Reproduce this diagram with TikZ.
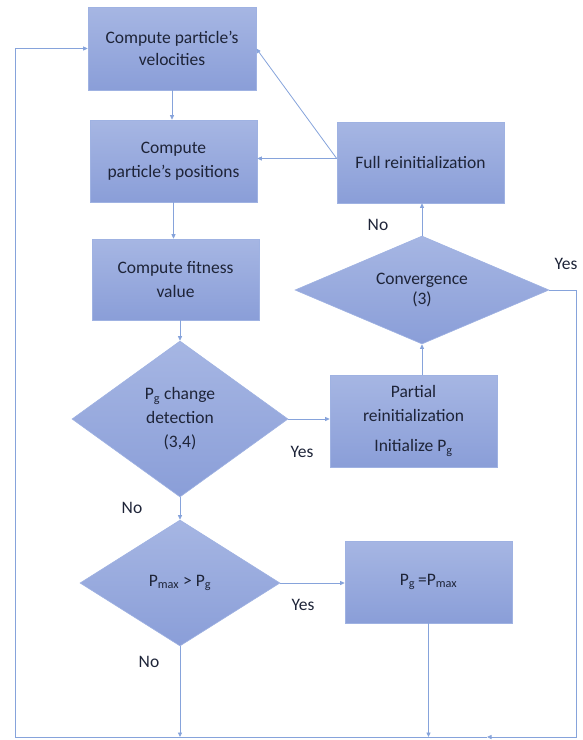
\documentclass[tikz,border=0pt]{standalone}
\usepackage{fontspec}
\setmainfont{Carlito}
\usetikzlibrary{arrows.meta,shapes.geometric}
\definecolor{boxtop}{HTML}{A6B6E3}
\definecolor{boxbot}{HTML}{8A9ED8}
\definecolor{boxline}{HTML}{9FB2E2}
\definecolor{conn}{HTML}{86A3DB}
\definecolor{txt}{HTML}{1E2438}
\begin{document}
\begin{tikzpicture}[x=1pt,y=-1pt,
  every node/.style={text=txt,font=\fontsize{17.5}{24}\selectfont},
  procbox/.style={rectangle,draw=boxline,line width=0.6pt,top color=boxtop,bottom color=boxbot,align=center,inner sep=2pt},
  decision/.style={diamond,draw=boxline,line width=0.6pt,top color=boxtop,bottom color=boxbot,align=center,inner sep=0pt},
  lbl/.style={inner sep=0pt},
  conline/.style={draw=conn,line width=0.8pt},
  arr/.style={conline,-{Triangle[length=4.5pt,width=4pt]}}
]
\useasboundingbox (0,0) rectangle (583,740);
\node[procbox,minimum width=168pt,minimum height=83pt] (b1) at (172,48.5) {Compute particle’s\\[-2pt]velocities};
\node[procbox,minimum width=167pt,minimum height=82pt] (b2) at (173.5,161) {Compute\\particle’s positions};
\node[procbox,minimum width=167pt,minimum height=81pt] (b3) at (175.5,279.5) {Compute fitness\\value};
\node[decision,aspect=1.385,minimum width=216pt,minimum height=156pt] (d1) at (180,419) {P\textsubscript{g} change\\detection\\(3,4)};
\node[decision,aspect=1.6,minimum width=200pt,minimum height=126pt] (d2) at (180,583) {P\textsubscript{max} > P\textsubscript{g}};
\node[procbox,minimum width=167pt,minimum height=92pt] (pr) at (413.5,421) {Partial\\reinitialization\\[6pt]Initialize P\textsubscript{g}};
\node[decision,aspect=2.35,minimum width=254pt,minimum height=108pt] (cv) at (422,290) {Convergence\\[-4pt](3)};
\node[procbox,minimum width=167pt,minimum height=81pt] (fr) at (420.5,162.5) {Full reinitialization};
\node[procbox,minimum width=167pt,minimum height=82pt] (pg) at (428.5,582) {P\textsubscript{g}\,=P\textsubscript{max}};

\node[lbl] (l1) at (378,225) {No};
\node[lbl] (l2) at (566,264) {Yes};
\node[lbl] (l3) at (302,452) {Yes};
\node[lbl] (l4) at (132,508) {No};
\node[lbl] (l5) at (303,605) {Yes};
\node[lbl] (l6) at (149,662) {No};

\coordinate (cr) at (576,290);
\coordinate (br) at (576,737);
\coordinate (bm) at (487,737);
\coordinate (bl) at (15,737);
\coordinate (tl) at (15,48.5);

\draw[arr] (b1.south) -- (b1.south |- b2.north);
\draw[arr] (b2.south) -- (b2.south |- b3.north);
\draw[arr] (d1.north |- b3.south) -- (d1.north);
\draw[arr] (d1.east) -- (d1.east -| pr.west);
\draw[arr] (d1.south) -- (d2.north);
\draw[arr] (d2.east) -- (d2.east -| pg.west);
\draw[arr] (cv.south |- pr.north) -- (cv.south);
\draw[arr] (cv.north) -- (cv.north |- fr.south);
\draw[arr] ([yshift=4pt]fr.west) -- ([yshift=4pt]fr.west -| b2.east);
\draw[arr] ([yshift=4pt]fr.west) -- (b1.east);
\draw[arr] (d2.south) -- (d2.south |- bl);
\draw[arr] (pg.south) -- (pg.south |- bl);
\draw[arr] (cv.east) -- (cr) -- (br) -- (bm);
\draw[arr] (bm) -- (bl) -- (tl) -- (b1.west);
\end{tikzpicture}
\end{document}
